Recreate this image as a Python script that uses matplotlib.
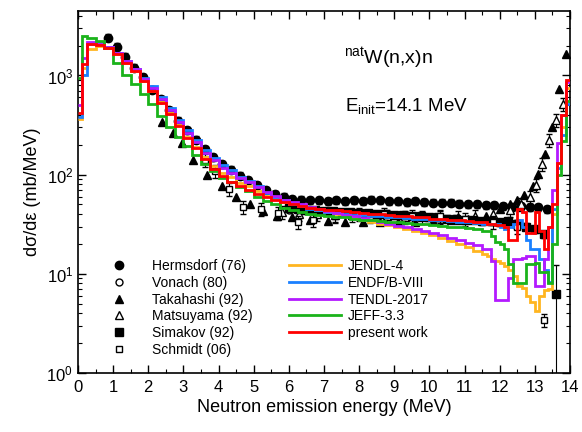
import matplotlib
matplotlib.use("Agg")
import matplotlib.pyplot as plt
import numpy as np
from matplotlib.ticker import MultipleLocator, LogLocator

plt.rcParams['font.family'] = ['Liberation Sans', 'DejaVu Sans']
plt.rcParams['mathtext.fontset'] = 'custom'
plt.rcParams['mathtext.rm'] = 'Liberation Sans'
plt.rcParams['mathtext.it'] = 'Liberation Sans:italic'

# bin edges of the evaluated spectra (MeV)
edges = np.concatenate([[0.0, 0.1], np.arange(0.25, 11.5, 0.25), np.arange(11.5, 14.001, 0.125)])

jendl4 = [360, 1200, 1850, 2000, 1900, 1650, 1350, 1100, 880, 700, 540, 420, 316, 242, 192, 152,
          123, 105, 94, 83, 77, 68, 61, 57, 53, 50, 48, 46, 44, 42, 40, 38.5, 37, 35, 33.5, 32,
          31, 29.5, 28.5, 27, 26, 24.5, 23, 21.5, 20, 18.6, 17,
          16, 15, 14, 13.5, 12.8, 12, 11, 9.5, 7.6, 7.2, 6, 5.2, 4.2, 6, 6.8, 7, 40, 130, 300, 750]
endfb8 = [380, 1000, 2100, 2150, 1950, 1700, 1400, 1170, 950, 775, 600, 470, 355, 280, 223, 179,
          146, 126, 111, 95, 86, 76, 66, 60, 55, 51, 48, 45.5, 43.5, 42, 41, 40, 39.5, 39, 38.5, 38,
          37.5, 37, 36.5, 36, 35.5, 35, 34.5, 34, 33.5, 33, 32.5,
          32, 32, 32, 31.5, 30, 28, 30, 32, 35, 30, 22, 18, 18, 14, 11, 8.3, 45, 117, 250, 520]
tendl = [500, 1500, 2150, 2100, 1950, 1700, 1400, 1150, 930, 745, 575, 445, 340, 265, 212, 167,
         139, 117, 104, 92, 84, 75, 67, 61, 56, 53, 50, 47, 45, 43, 41, 39.5, 38, 36.5, 35, 33.5,
         32, 30.5, 29.5, 28, 27, 26, 24.5, 23, 22, 20.5, 19.5,
         18, 18, 13.5, 5.4, 5.4, 5.4, 9, 14, 14, 14.5, 15, 15, 7.6, 7.6, 14, 30, 70, 210, 400, 850]
jeff33 = [950, 2500, 2400, 2250, 1900, 1350, 1010, 815, 650, 510, 390, 300, 237, 195, 158, 129,
          108, 93, 84, 75, 69, 60, 54, 50, 46, 44, 42, 40.5, 39.5, 38.5, 37.5, 37, 36, 35, 34.5, 34,
          33.5, 33, 32.5, 32, 31.5, 31, 30.5, 30, 29.5, 29, 28,
          27, 27, 24, 21, 20, 18, 12.5, 8, 8, 8, 12.6, 12.6, 13, 10.5, 10.5, 8, 20, 100, 220, 550]
present = [420, 1300, 2100, 2050, 1900, 1650, 1350, 1100, 880, 690, 530, 410, 310, 235, 185, 145,
           115, 97, 85, 76, 70, 64, 60, 56, 53, 50, 48, 46.5, 45.5, 44.5, 43.5, 42.5, 42, 41, 40.5,
           40, 39, 38.5, 38, 37.5, 37, 36, 35.5, 35, 34.5, 34, 33.5,
           33, 32, 32, 31, 31, 30, 22, 22, 45, 42, 26, 26, 42, 27, 18, 30, 50, 130, 400, 900]

# experimental data
herms_e = [0.85, 1.1, 1.35, 1.6, 1.85, 2.1, 2.35, 2.6, 2.85, 3.1, 3.35, 3.6, 3.85, 4.1, 4.35, 4.6,
           4.85, 5.1, 5.35, 5.6, 5.85, 6.1, 6.35, 6.6, 6.85, 7.1, 7.35, 7.6, 7.85, 8.1, 8.35, 8.6,
           8.85, 9.1, 9.35, 9.6, 9.85, 10.1, 10.35, 10.6, 10.85, 11.1, 11.35, 11.6, 11.85, 12.1,
           12.35, 12.6, 12.85, 13.1, 13.35]
herms_v = [2400, 1950, 1550, 1200, 960, 720, 580, 450, 350, 280, 225, 180, 150, 128, 112, 98,
           88, 78, 70, 64, 60, 57, 56, 55, 55, 54, 55, 54, 55, 54, 56, 55, 54, 54, 53, 54, 53, 52,
           52, 52, 51, 50, 50, 49, 49, 48, 47, 48, 47, 47, 45]
vonach_e = [6.0, 7.0, 8.0, 9.0, 10.0, 11.0]
vonach_v = [44, 42, 41, 39, 37, 35]
taka_e = [2.4, 2.7, 2.96, 3.27, 3.67, 4.1, 4.5, 4.9, 5.27, 5.66, 6.1, 6.6, 7.1, 7.6, 8.1, 8.6, 9.1,
          9.6, 10.1, 10.6, 11.1, 11.6, 12.0, 12.3, 12.5, 12.7, 12.95, 13.1, 13.3, 13.5, 13.7, 13.9]
taka_v = [340, 263, 209, 141, 100, 76, 60, 50, 43, 38, 37, 35, 34, 33.5, 33, 33, 33, 33.5, 34,
          34.5, 36, 38, 45, 50, 56, 63, 76, 102, 163, 302, 724, 1660]
matsu_e = [5.8, 6.3, 6.8, 7.3, 7.8, 8.3, 8.8, 9.3, 9.8, 10.3, 10.8, 11.3, 11.8, 12.3, 12.6, 12.85,
           13.03, 13.2, 13.4, 13.6, 13.8]
matsu_v = [42, 40, 40, 39, 39, 38, 38, 37, 37, 37, 37, 38, 40, 44, 50, 60, 79, 129, 224, 355, 513]
simak_e = [6.0, 6.25, 6.5, 6.75, 7.0, 7.25, 7.5, 7.75, 8.0, 8.25, 8.5, 8.75, 9.0, 9.25, 9.5, 9.75,
           10.0, 10.25, 10.5, 10.75, 11.0, 11.25, 11.5, 11.75, 12.0, 12.25, 12.5, 12.75, 13.0,
           13.25, 13.6]
simak_v = [46, 45, 44, 44, 43, 43, 42, 42, 41, 41, 40, 40, 39, 39, 38, 38, 37, 37, 36, 36, 35, 35,
           34, 34, 33, 34, 32, 30, 28, 25, 6.2]
schmidt_e = [3.6, 3.9, 4.3, 4.7, 5.2, 5.7, 6.25, 6.7, 7.3, 8.0, 8.7, 9.5, 10.3, 11.0, 11.8, 12.5,
             13.26]
schmidt_v = [140, 110, 72, 47, 45, 41, 33, 35, 38, 40, 40, 38, 38, 36, 33, 30, 3.4]

fig = plt.figure(figsize=(5.82, 4.32), dpi=100)
ax = fig.add_axes([78 / 582, 1 - 373 / 432, 492 / 582, 362 / 432])

mk = dict(linestyle='none', color='black', markeredgecolor='black', markersize=6, zorder=2)
eb = dict(fmt='none', ecolor='black', elinewidth=0.8, capsize=2.5, zorder=2)

h2, = ax.plot(vonach_e, vonach_v, marker='o', markerfacecolor='white', label='Vonach (80)',
              **{**mk, 'markersize': 5, 'zorder': 1.5})
hv = np.array(herms_v)
ax.errorbar(herms_e, hv, yerr=0.08 * hv, **eb)
h1, = ax.plot(herms_e, herms_v, marker='o', label='Hermsdorf (76)', **mk)
h3, = ax.plot(taka_e, taka_v, marker='^', label='Takahashi (92)', **mk)
mv = np.array(matsu_v)
ax.errorbar(matsu_e, mv, yerr=0.15 * mv, **eb)
h4, = ax.plot(matsu_e, matsu_v, marker='^', markerfacecolor='white', label='Matsuyama (92)',
              **{**mk, 'markersize': 5.5})
sv = np.array(simak_v)
s_err = 0.08 * sv
s_err_lo = s_err.copy()
s_err_lo[-1] = sv[-1] - 0.5
s_err_hi = s_err.copy()
s_err_hi[-1] = 12.3 - sv[-1]
ax.errorbar(simak_e, sv, yerr=[s_err_lo, s_err_hi], **eb)
h5, = ax.plot(simak_e, simak_v, marker='s', label='Simakov (92)', **{**mk, 'markersize': 5.5})
cv = np.array(schmidt_v)
ax.errorbar(schmidt_e, cv, yerr=0.15 * cv, **eb)
h6, = ax.plot(schmidt_e, schmidt_v, marker='s', markerfacecolor='white', label='Schmidt (06)',
              **{**mk, 'markersize': 5})

lw = 2.0
l1 = ax.stairs(jendl4, edges, color='#ffb520', lw=lw, label='JENDL-4', zorder=3, baseline=None)
l2 = ax.stairs(endfb8, edges, color='#1a80ff', lw=lw, label='ENDF/B-VIII', zorder=3, baseline=None)
l3 = ax.stairs(tendl, edges, color='#b31aff', lw=lw, label='TENDL-2017', zorder=3, baseline=None)
l4 = ax.stairs(jeff33, edges, color='#1ab31a', lw=lw, label='JEFF-3.3', zorder=3, baseline=None)
l5 = ax.stairs(present, edges, color='#ff0000', lw=lw, label='present work', zorder=4, baseline=None)

ax.set_yscale('log')
ax.set_xlim(0, 14)
ax.set_ylim(1, 10 ** 3.65)
ax.xaxis.set_major_locator(MultipleLocator(1))
ax.xaxis.set_minor_locator(MultipleLocator(0.5))
ax.yaxis.set_major_locator(LogLocator(base=10))
ax.yaxis.set_minor_locator(LogLocator(base=10, subs=np.arange(2, 10)))
ax.tick_params(which='both', direction='in', top=True, right=True, labelsize=12)
ax.tick_params(which='major', length=6, width=1)
ax.tick_params(which='minor', length=3, width=0.8)
ax.tick_params(axis='x', pad=5)
for s in ax.spines.values():
    s.set_linewidth(1.2)

ax.set_xlabel('Neutron emission energy (MeV)', fontsize=13, labelpad=3)
ax.set_ylabel('dσ/dε (mb/MeV)', fontsize=13)

ax.text(0.54, 0.855, r'$^{\rm nat}$W(n,x)n', fontsize=14, transform=ax.transAxes)
ax.text(0.543, 0.725, r'E$_{\rm init}$=14.1 MeV', fontsize=13.5, transform=ax.transAxes)

handles = [h1, h2, h3, h4, h5, h6, l1, l2, l3, l4, l5]
fig.legend(handles=handles, loc='upper left', bbox_to_anchor=(86 / 582, 1 - 252 / 432),
           ncol=2, frameon=False, fontsize=10, handlelength=3.8, handletextpad=0.45,
           labelspacing=0.2, columnspacing=2.6, borderpad=0, numpoints=1)

fig.savefig('out.png', dpi=100)
